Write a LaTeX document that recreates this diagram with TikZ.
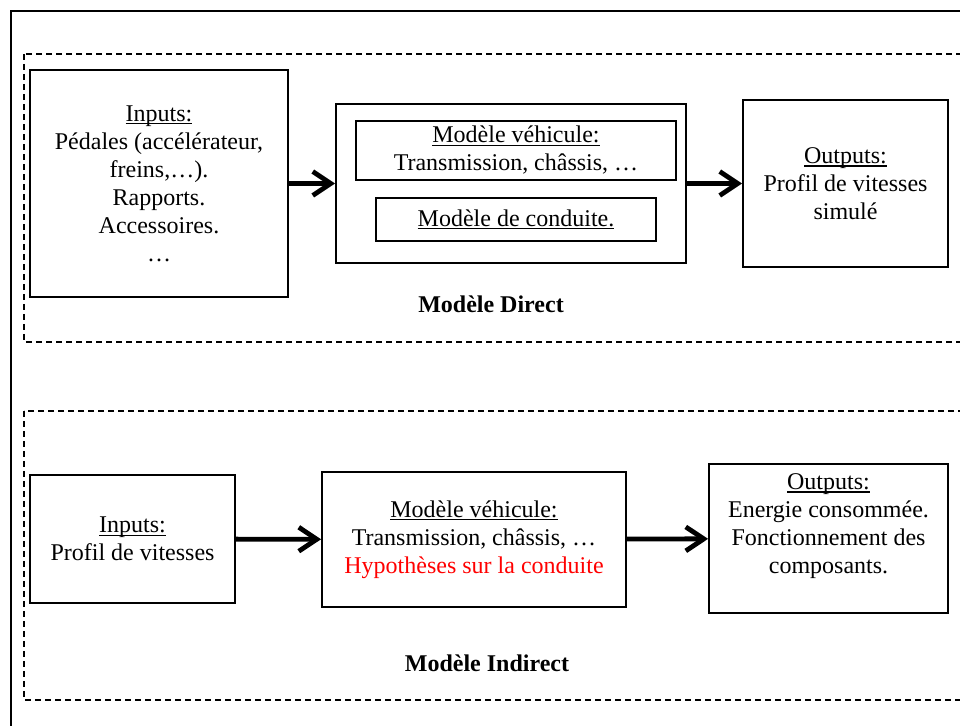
\documentclass[tikz,border=0pt]{standalone}
\usepackage{fontspec}
\setmainfont{Liberation Serif}
\usetikzlibrary{arrows.meta}

\newcommand{\souligne}[1]{\setbox0\hbox{#1}\rlap{\rule[-1.6pt]{\wd0}{0.55pt}}\box0}

\tikzset{
  blk/.style={draw, line width=0.9pt, align=center, inner sep=0pt,
    font=\fontsize{12}{14}\selectfont},
  txt/.style={align=center, inner sep=0pt, font=\fontsize{12}{14}\selectfont},
  grp/.style={draw, line width=0.75pt, dash pattern=on 3pt off 2pt},
  flow/.style={line width=2.4pt, -{Straight Barb[length=9pt,width=12pt]}},
}

\begin{document}
\begin{tikzpicture}[x=0.5pt, y=-0.5pt]
            \useasboundingbox (0,0) rectangle (960,726);
            \clip (0,0) rectangle (960,726);
            \draw[line width=1pt] (11,11) rectangle (975,740);
            % modele direct
            \draw[grp] (24,54) rectangle (975,342);
            \node[blk, minimum width=129pt, minimum height=113.5pt] (inA) at (159,183.5) {\souligne{Inputs:}\\ Pédales (accélérateur,\\ freins,\dots).\\ Rapports.\\ Accessoires.\\ \dots};
            \node[blk, minimum width=175pt, minimum height=79.5pt] (modA) at (511,183.5) {};
            \node[blk, minimum width=160pt, minimum height=29.5pt] (vehA) at (516,150.5) {\souligne{Modèle véhicule:}\\ Transmission, châssis, \dots};
            \node[blk, minimum width=140pt, minimum height=21.5pt] (condA) at (516,219.5) {\souligne{Modèle de conduite.}};
            \node[blk, minimum width=102.5pt, minimum height=83.5pt] (outA) at (845.5,183.5) {\souligne{Outputs:}\\ Profil de vitesses\\ simulé};
            \node[txt, font=\fontsize{12}{14}\selectfont\bfseries] (labA) at (491,304) {Modèle Direct};
            \draw[flow] (inA) -- (modA);
            \draw[flow] (modA) -- (outA);
            % modele indirect
            \draw[grp] (24,411) rectangle (975,700);
            \node[blk, minimum width=102.5pt, minimum height=64pt] (inB) at (132.5,539) {\souligne{Inputs:}\\ Profil de vitesses};
            \node[blk, minimum width=152pt, minimum height=67.5pt] (modB) at (474,539.5) {\souligne{Modèle véhicule:}\\ Transmission, châssis, \dots\\ \textcolor{red}{Hypothèses sur la conduite}};
            \node[blk, minimum width=119.5pt, minimum height=74.5pt] (outB) at (828.5,538.5) {};
            \node[txt] (outBtxt) at (828.5,526) {\souligne{Outputs:}\\ Energie consommée.\\ Fonctionnement des\\ composants.};
            \node[txt, font=\fontsize{12}{14}\selectfont\bfseries] (labB) at (487,663) {Modèle Indirect};
            \draw[flow] (inB) -- (modB);
            \draw[flow] (modB) -- (outB);
        \end{tikzpicture}
\end{document}
